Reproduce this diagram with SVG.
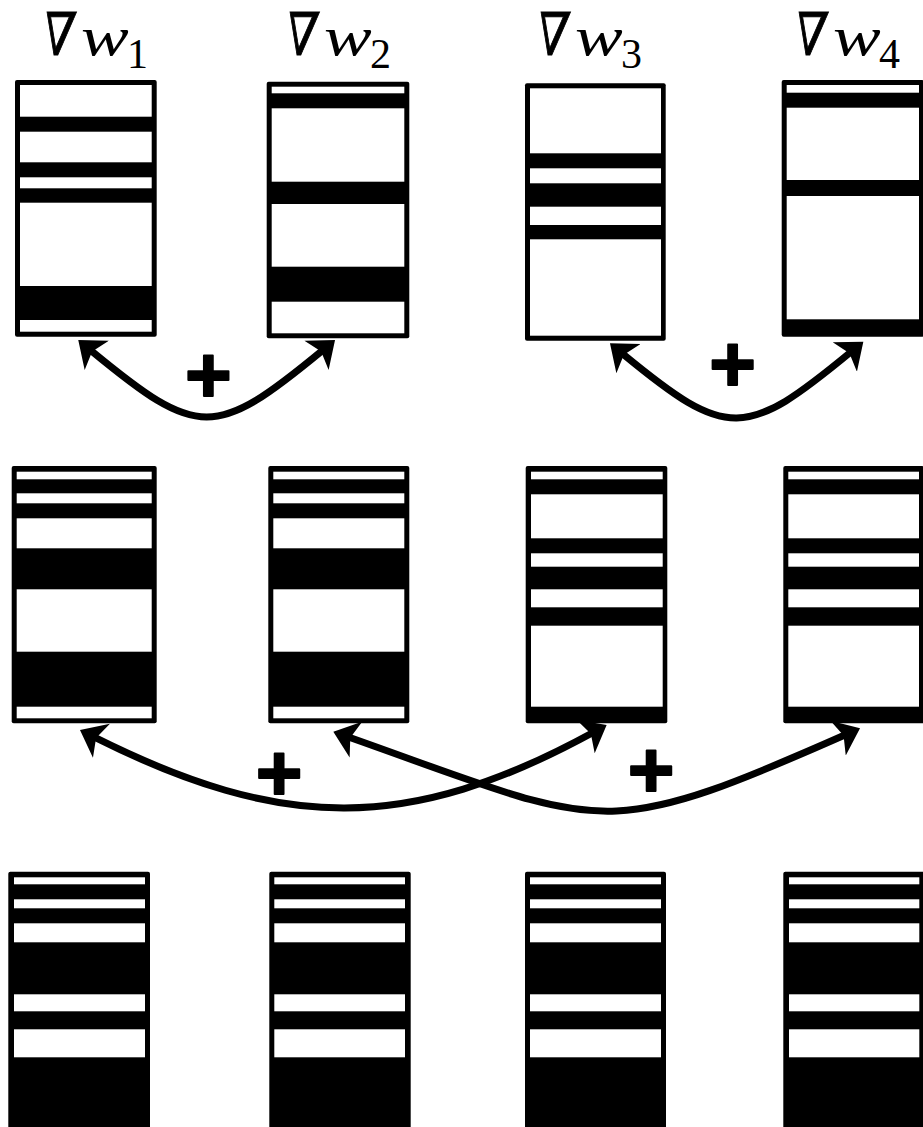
<svg xmlns="http://www.w3.org/2000/svg" width="923" height="1127" viewBox="0 0 923 1127">
<style>
.b{fill:#000}
.w{fill:#fff}
.nab{font-family:"DejaVu Serif","DejaVu Sans",serif;font-size:59px;fill:#000;stroke:#000;stroke-width:1}
.var{font-family:"Liberation Serif","Times New Roman",serif;font-style:italic;font-size:55px;fill:#000}
.sub{font-family:"Liberation Serif","Times New Roman",serif;font-size:42px;fill:#000}
.plus{font-family:"Liberation Sans",Arial,sans-serif;font-weight:bold;font-size:80px;fill:#000;stroke:#000;stroke-width:2;stroke-linejoin:round;text-anchor:middle}
.conn{fill:none;stroke:#000;stroke-width:7}
</style>
<defs>
<marker id="ah" markerUnits="userSpaceOnUse" markerWidth="30" markerHeight="40" viewBox="0 -20 30 40" refX="8" refY="0" orient="auto-start-reverse">
<path d="M24,0 L0,-19 L6,0 L0,19 Z" fill="#000"/>
</marker>
</defs>
<rect width="923" height="1127" fill="#fff"/>

<!-- labels -->
<g id="label1">
<text class="nab" transform="translate(40,55) scale(0.78,1) skewX(-10)">∇</text>
<text class="var" transform="translate(81,55) scale(1.3,1)">w</text>
<text class="sub" x="127" y="68">1</text>
</g>
<g id="label2">
<text class="nab" transform="translate(283,55) scale(0.78,1) skewX(-10)">∇</text>
<text class="var" transform="translate(324,55) scale(1.3,1)">w</text>
<text class="sub" x="370" y="68">2</text>
</g>
<g id="label3">
<text class="nab" transform="translate(534,55) scale(0.78,1) skewX(-10)">∇</text>
<text class="var" transform="translate(575,55) scale(1.3,1)">w</text>
<text class="sub" x="621" y="68">3</text>
</g>
<g id="label4">
<text class="nab" transform="translate(792,55) scale(0.78,1) skewX(-10)">∇</text>
<text class="var" transform="translate(833,55) scale(1.3,1)">w</text>
<text class="sub" x="879" y="68">4</text>
</g>

<!-- top row -->
<g id="top1">
<rect class="b" x="15" y="80" width="141.7" height="256.7" rx="2"/>
<rect class="w" x="20" y="85" width="131.7" height="31.7"/>
<rect class="w" x="20" y="131.7" width="131.7" height="30.6"/>
<rect class="w" x="20" y="177.3" width="131.7" height="11"/>
<rect class="w" x="20" y="202.7" width="131.7" height="83.3"/>
<rect class="w" x="20" y="320" width="131.7" height="11.7"/>
</g>
<g id="top2">
<rect class="b" x="266.7" y="81.7" width="142.6" height="256.6" rx="2"/>
<rect class="w" x="271.7" y="86.7" width="132.6" height="6.6"/>
<rect class="w" x="271.7" y="108.3" width="132.6" height="73.4"/>
<rect class="w" x="271.7" y="204" width="132.6" height="62.7"/>
<rect class="w" x="271.7" y="301.7" width="132.6" height="31.6"/>
</g>
<g id="top3">
<rect class="b" x="525" y="83.3" width="140.7" height="257.4" rx="2"/>
<rect class="w" x="530" y="88.3" width="131" height="65"/>
<rect class="w" x="530" y="168.3" width="131" height="15"/>
<rect class="w" x="530" y="206.7" width="131" height="18.3"/>
<rect class="w" x="530" y="239.3" width="131" height="96.4"/>
</g>
<g id="top4">
<rect class="b" x="781.7" y="80" width="142.3" height="256.7" rx="2"/>
<rect class="w" x="786.7" y="85" width="132.3" height="7.7"/>
<rect class="w" x="786.7" y="107.7" width="132.3" height="72.3"/>
<rect class="w" x="786.7" y="196" width="132.3" height="123.3"/>
</g>

<!-- middle row -->
<g id="mid1">
<rect class="b" x="11.7" y="466" width="145" height="257.3" rx="2"/>
<rect class="w" x="16.7" y="471.7" width="135" height="7.6"/>
<rect class="w" x="16.7" y="493.3" width="135" height="10"/>
<rect class="w" x="16.7" y="518.3" width="135" height="30"/>
<rect class="w" x="16.7" y="589.3" width="135" height="62.4"/>
<rect class="w" x="16.7" y="706.7" width="135" height="11.6"/>
</g>
<g id="mid2">
<rect class="b" x="268.3" y="466" width="141" height="257.3" rx="2"/>
<rect class="w" x="273.3" y="471.7" width="131" height="7.6"/>
<rect class="w" x="273.3" y="493.3" width="131" height="10"/>
<rect class="w" x="273.3" y="518.3" width="131" height="30"/>
<rect class="w" x="273.3" y="589.3" width="131" height="62.4"/>
<rect class="w" x="273.3" y="706.7" width="131" height="11.6"/>
</g>
<g id="mid3">
<rect class="b" x="525.7" y="466" width="141.6" height="257.3" rx="2"/>
<rect class="w" x="531" y="471.7" width="131.7" height="7.6"/>
<rect class="w" x="531" y="494.3" width="131.7" height="44"/>
<rect class="w" x="531" y="553.3" width="131.7" height="13.4"/>
<rect class="w" x="531" y="589.3" width="131.7" height="18"/>
<rect class="w" x="531" y="625.7" width="131.7" height="81"/>
</g>
<g id="mid4">
<rect class="b" x="783.3" y="466" width="140.7" height="257.3" rx="2"/>
<rect class="w" x="788.3" y="471.7" width="130.7" height="7.6"/>
<rect class="w" x="788.3" y="494.3" width="130.7" height="44"/>
<rect class="w" x="788.3" y="553.3" width="130.7" height="13.4"/>
<rect class="w" x="788.3" y="589.3" width="130.7" height="18"/>
<rect class="w" x="788.3" y="625.7" width="130.7" height="81"/>
</g>

<!-- bottom row -->
<g id="bot1">
<rect class="b" x="8.3" y="871.7" width="141.7" height="270" rx="2"/>
<rect class="w" x="14" y="877.3" width="131" height="7"/>
<rect class="w" x="14" y="899.3" width="131" height="9"/>
<rect class="w" x="14" y="923.3" width="131" height="19"/>
<rect class="w" x="14" y="994.3" width="131" height="17"/>
<rect class="w" x="14" y="1029.3" width="131" height="28"/>
</g>
<g id="bot2">
<rect class="b" x="269.3" y="871.7" width="141.4" height="270" rx="2"/>
<rect class="w" x="274.3" y="877.3" width="130.7" height="7"/>
<rect class="w" x="274.3" y="899.3" width="130.7" height="9"/>
<rect class="w" x="274.3" y="923.3" width="130.7" height="19"/>
<rect class="w" x="274.3" y="994.3" width="130.7" height="17"/>
<rect class="w" x="274.3" y="1029.3" width="130.7" height="28"/>
</g>
<g id="bot3">
<rect class="b" x="525" y="871.7" width="141" height="270" rx="2"/>
<rect class="w" x="530" y="877.3" width="131" height="7"/>
<rect class="w" x="530" y="899.3" width="131" height="9"/>
<rect class="w" x="530" y="923.3" width="131" height="19"/>
<rect class="w" x="530" y="994.3" width="131" height="17"/>
<rect class="w" x="530" y="1029.3" width="131" height="28"/>
</g>
<g id="bot4">
<rect class="b" x="783.3" y="871.7" width="141" height="270" rx="2"/>
<rect class="w" x="789" y="877.3" width="130.3" height="7"/>
<rect class="w" x="789" y="899.3" width="130.3" height="9"/>
<rect class="w" x="789" y="923.3" width="130.3" height="19"/>
<rect class="w" x="789" y="994.3" width="130.3" height="17"/>
<rect class="w" x="789" y="1029.3" width="130.3" height="28"/>
</g>

<!-- connectors -->
<g id="connectors">
<path class="conn" marker-start="url(#ah)" marker-end="url(#ah)" d="M90.6,350.2 C198.4,439.2 214.9,439.2 322.7,350.2"/>
<path class="conn" marker-start="url(#ah)" marker-end="url(#ah)" d="M622.3,353.5 C727.8,440.6 745.5,439 851,351.9"/>
<path class="conn" marker-start="url(#ah)" marker-end="url(#ah)" d="M94.3,737.2 C282,831.1 408.2,833.3 592.6,732.7"/>
<path class="conn" marker-start="url(#ah)" marker-end="url(#ah)" d="M348.4,737 C604.9,827.6 596.5,844.7 845.4,734.8"/>
</g>

<!-- plus labels -->
<g id="plus-labels">
<text class="plus" x="208.3" y="402">+</text>
<text class="plus" x="732.7" y="390.5">+</text>
<text class="plus" x="279" y="800">+</text>
<text class="plus" x="651" y="796.5">+</text>
</g>
</svg>
